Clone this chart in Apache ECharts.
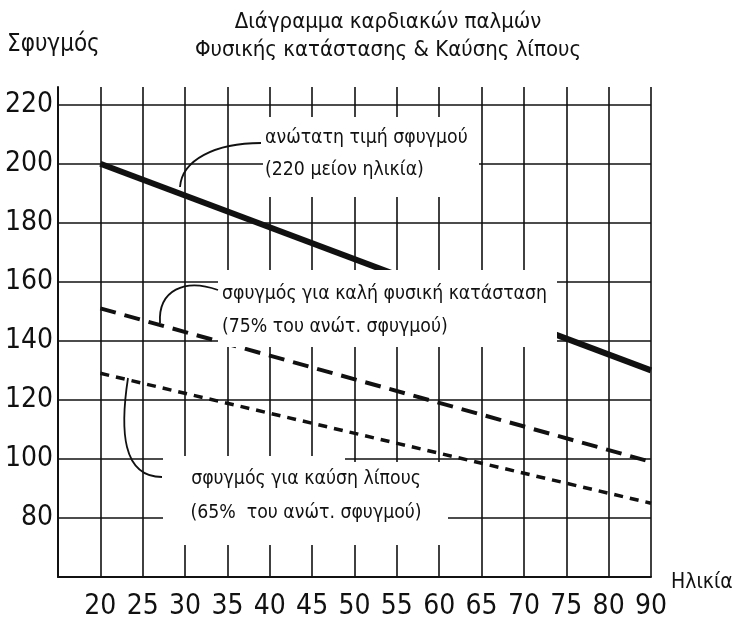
<!DOCTYPE html>
<html><head><meta charset="utf-8">
<script src="https://cdn.jsdelivr.net/npm/echarts@6/dist/echarts.min.js"></script>
<style>html,body{margin:0;padding:0;background:#fff}#c{width:744px;height:617px}</style>
</head><body><div id="c"></div>
<script>
// ---- data ----
const ageTicks = ['', '20', '25', '30', '35', '40', '45', '50', '55', '60', '65', '70', '75', '80', '90'];
const pulseTicks = [80, 100, 120, 140, 160, 180, 200, 220];
const lineAges = ['20', '90'];
const maxPulse = [200, 130];      // 220 μείον ηλικία
const fitnessPulse = [151, 99];   // 75%
const fatBurnPulse = [129, 85];   // 65%

const titleLines = ['Διάγραμμα καρδιακών παλμών', 'Φυσικής κατάστασης & Καύσης λίπους'];
const yName = 'Σφυγμός';
const xName = 'Ηλικία';
const noteMax = ['ανώτατη τιμή σφυγμού', '(220 μείον ηλικία)'];
const noteFit = ['σφυγμός για καλή φυσική κατάσταση', '(75% του ανώτ. σφυγμού)'];
const noteFat = ['σφυγμός για καύση λίπους', '(65%  του ανώτ. σφυγμού)'];

const pair = (xs, ys) => xs.map((x, i) => [x, ys[i]]);
const NUMFONT = '"DejaVu Sans Condensed", "DejaVu Sans", sans-serif';
const TXTFONT = '"DejaVu Sans Condensed", "DejaVu Sans", sans-serif';
const INK = '#111';

const chart = echarts.init(document.getElementById('c'), null, {renderer: 'canvas'});

function txt(x, y, s, size, align) {
  return {type: 'text', x: x, y: y, z: 102,
    style: {text: s, fill: INK, fontFamily: TXTFONT, fontSize: size, align: align || 'left', verticalAlign: 'middle'}};
}
function box(x, y, w, h) {
  return {type: 'rect', z: 100, shape: {x: x, y: y, width: w, height: h}, style: {fill: '#fff'}};
}
function curve(x1, y1, c1x, c1y, c2x, c2y, x2, y2) {
  return {type: 'bezierCurve', z: 101,
    shape: {x1: x1, y1: y1, cpx1: c1x, cpy1: c1y, cpx2: c2x, cpy2: c2y, x2: x2, y2: y2},
    style: {stroke: INK, lineWidth: 1.8, fill: null}};
}

chart.setOption({
  animation: false,
  backgroundColor: '#fff',
  grid: {left: 58, top: 87, width: 593, height: 490, containLabel: false, outerBoundsMode: 'none'},
  xAxis: {
    type: 'category', data: ageTicks, boundaryGap: false,
    axisLine: {show: true, lineStyle: {color: INK, width: 2}},
    axisTick: {show: false},
    axisLabel: {interval: 0, margin: 16, fontFamily: NUMFONT, fontSize: 28, color: INK},
    splitLine: {show: true, interval: 0, lineStyle: {color: INK, width: 1.6}}
  },
  yAxis: {
    type: 'value', min: 60, max: 226, interval: 20,
    axisLine: {show: true, lineStyle: {color: INK, width: 2}},
    axisTick: {show: false},
    axisLabel: {margin: 5, fontFamily: NUMFONT, fontSize: 28, color: INK, showMinLabel: false, showMaxLabel: false,
      formatter: v => pulseTicks.indexOf(v) >= 0 ? String(v) : ''},
    splitLine: {show: true, showMinLine: true, showMaxLine: false, lineStyle: {color: INK, width: 1.6}}
  },
  series: [
    {type: 'line', name: 'max', data: pair(lineAges, maxPulse), symbol: 'none', z: 3,
      lineStyle: {color: INK, width: 6, cap: 'butt'}},
    {type: 'line', name: 'fit', data: pair(lineAges, fitnessPulse), symbol: 'none', z: 3,
      lineStyle: {color: INK, width: 4, type: [16, 9], cap: 'butt'}},
    {type: 'line', name: 'fat', data: pair(lineAges, fatBurnPulse), symbol: 'none', z: 3,
      lineStyle: {color: INK, width: 3.5, type: [9, 7], cap: 'butt'}}
  ],
  graphic: [
    box(263, 117, 216, 80),
    box(218, 270, 339, 77),
    box(163, 456, 182, 89),
    box(345, 462, 103, 83),
    curve(261, 143, 215, 143, 182, 160, 180, 187),
    curve(218, 290, 185, 278, 158, 290, 160, 323),
    curve(128, 378, 120, 430, 122, 477, 162, 477),
    txt(388, 22, titleLines[0], 22, 'center'),
    txt(388, 50, titleLines[1], 22, 'center'),
    txt(7, 45, yName, 24),
    txt(671, 583, xName, 21),
    txt(265, 138, noteMax[0], 19.3),
    txt(265, 170, noteMax[1], 19.3),
    txt(222, 294, noteFit[0], 19.3),
    txt(222, 327, noteFit[1], 19.3),
    txt(306, 479, noteFat[0], 19.3, 'center'),
    txt(306, 513, noteFat[1], 19.3, 'center')
  ]
});
</script></body></html>
